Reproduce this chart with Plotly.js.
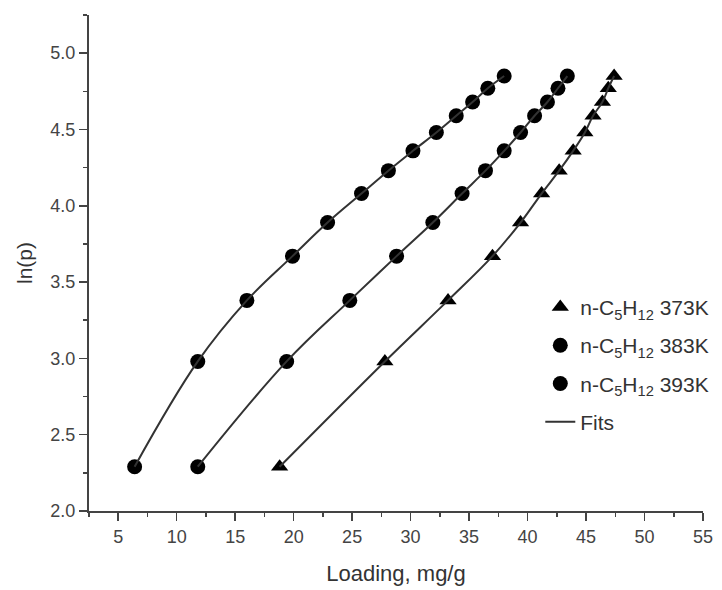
<!DOCTYPE html>
<html>
<head>
<meta charset="utf-8">
<script src="https://cdn.plot.ly/plotly-3.0.1.min.js"></script>
<style>html,body{margin:0;padding:0;background:#fff;}#chart{width:722px;height:590px;}</style>
</head>
<body>
<div id="chart"></div>
<script>
// n-C5H12 373K (triangles)
const load373 = [18.8, 27.8, 33.2, 37.0, 39.4, 41.2, 42.7, 43.9, 44.9, 45.6, 46.4, 46.9, 47.4];
const lnp373  = [2.29, 2.98, 3.38, 3.67, 3.89, 4.08, 4.23, 4.36, 4.48, 4.59, 4.68, 4.77, 4.85];
// n-C5H12 383K (circles)
const load383 = [11.8, 19.4, 24.8, 28.8, 31.9, 34.4, 36.4, 38.0, 39.4, 40.6, 41.7, 42.6, 43.4];
const lnp383  = [2.29, 2.98, 3.38, 3.67, 3.89, 4.08, 4.23, 4.36, 4.48, 4.59, 4.68, 4.77, 4.85];
// n-C5H12 393K (circles)
const load393 = [6.4, 11.8, 16.0, 19.9, 22.9, 25.8, 28.1, 30.2, 32.2, 33.9, 35.3, 36.6, 38.0];
const lnp393  = [2.29, 2.98, 3.38, 3.67, 3.89, 4.08, 4.23, 4.36, 4.48, 4.59, 4.68, 4.77, 4.85];

const names = ['n-C<sub>5</sub>H<sub>12</sub> 373K', 'n-C<sub>5</sub>H<sub>12</sub> 383K', 'n-C<sub>5</sub>H<sub>12</sub> 393K', 'Fits'];

const lineColor = '#333333';
const fitLine = {color: lineColor, width: 2, shape: 'spline', smoothing: 1.1};

const traces = [
  {x: load373, y: lnp373, mode: 'markers', name: names[0], legendgroup: 'g1',
   marker: {symbol: 'triangle-up', size: 15, color: '#000'}},
  {x: load383, y: lnp383, mode: 'markers', name: names[1], legendgroup: 'g2',
   marker: {symbol: 'circle', size: 15, color: '#000'}},
  {x: load393, y: lnp393, mode: 'markers', name: names[2], legendgroup: 'g3',
   marker: {symbol: 'circle', size: 15, color: '#000'}},
  {x: load373, y: lnp373, mode: 'lines', line: fitLine, name: names[3], showlegend: true, legendgroup: 'g4', hoverinfo: 'skip'},
  {x: load383, y: lnp383, mode: 'lines', line: fitLine, name: names[3], showlegend: false, legendgroup: 'g4', hoverinfo: 'skip'},
  {x: load393, y: lnp393, mode: 'lines', line: fitLine, name: names[3], showlegend: false, legendgroup: 'g4', hoverinfo: 'skip'}
];

const axisFont = {family: 'Liberation Sans, Arial, sans-serif', size: 18, color: '#444'};

const layout = {
  width: 722, height: 590,
  margin: {l: 89, r: 19, t: 15, b: 79, autoexpand: false},
  paper_bgcolor: '#fff', plot_bgcolor: '#fff',
  font: {family: 'Liberation Sans, Arial, sans-serif', color: '#333'},
  showlegend: true,
  legend: {x: 0.735, y: 0.452, xanchor: 'left', yanchor: 'top', bgcolor: 'rgba(0,0,0,0)',
           font: {size: 21, color: '#333'}, tracegroupgap: 8, itemwidth: 30, traceorder: 'grouped'},
  xaxis: {
    range: [2.5, 55], tick0: 0, dtick: 5, showgrid: false, zeroline: false,
    showline: true, linecolor: '#444', linewidth: 2,
    ticks: 'outside', ticklen: 8, tickwidth: 1.5, tickcolor: '#444',
    minor: {dtick: 2.5, tick0: 0, ticks: 'outside', ticklen: 4, tickcolor: '#444', tickwidth: 1.5},
    tickfont: axisFont,
    title: {text: 'Loading, mg/g', font: {size: 22, color: '#333'}, standoff: 20},
    automargin: false
  },
  yaxis: {
    range: [2.0, 5.25], tick0: 0, dtick: 0.5, tickformat: '.1f', showgrid: false, zeroline: false,
    showline: true, linecolor: '#444', linewidth: 2,
    ticks: 'outside', ticklen: 8, tickwidth: 1.5, tickcolor: '#444',
    minor: {dtick: 0.25, tick0: 0, ticks: 'outside', ticklen: 4, tickcolor: '#444', tickwidth: 1.5},
    tickfont: axisFont,
    title: {text: 'ln(p)', font: {size: 21, color: '#333'}, standoff: 12},
    automargin: false
  }
};

Plotly.newPlot('chart', traces, layout, {displayModeBar: false, staticPlot: true});
</script>
</body>
</html>
